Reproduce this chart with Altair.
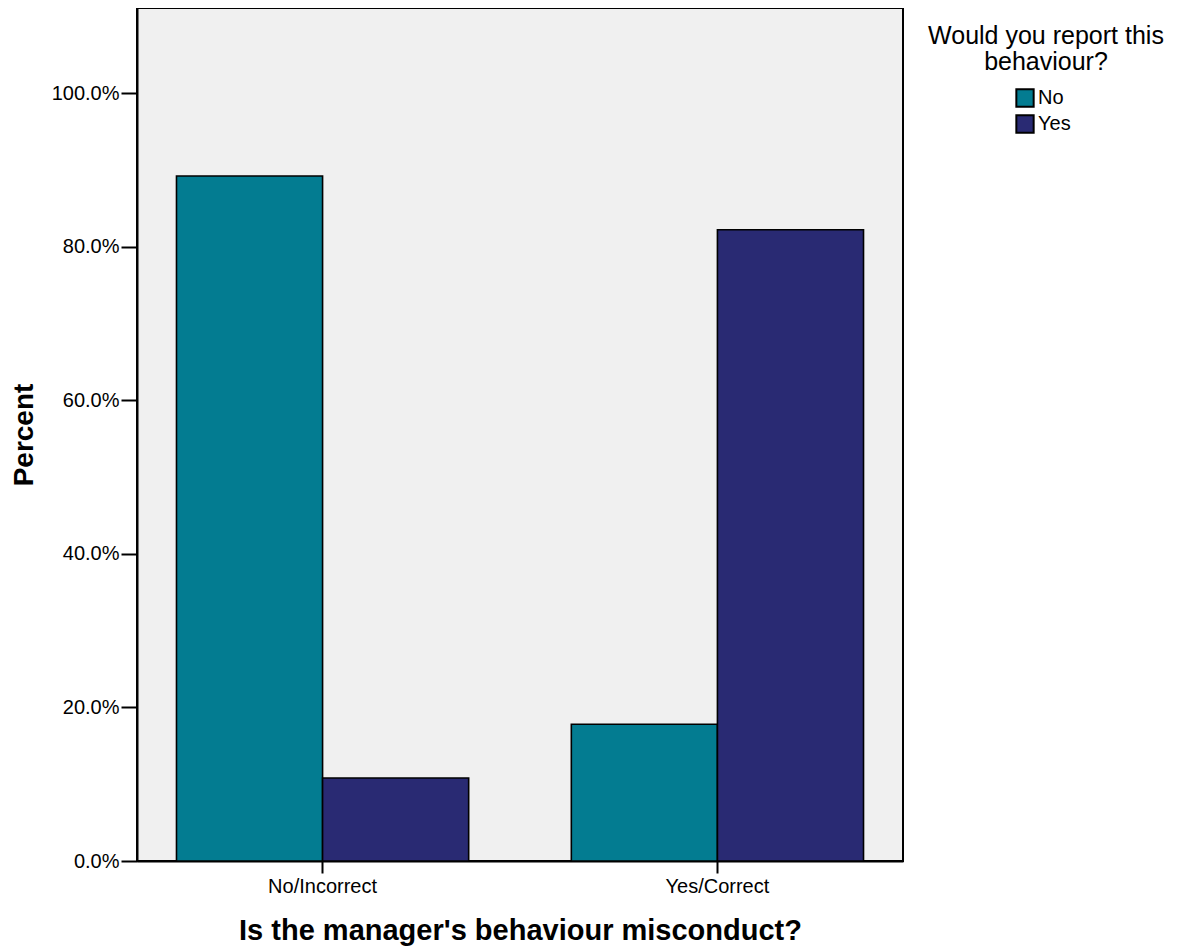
import altair as alt
import pandas as pd

categories = ["No/Incorrect", "No/Incorrect", "Yes/Correct", "Yes/Correct"]
report = ["No", "Yes", "No", "Yes"]
percent = [0.892, 0.108, 0.178, 0.822]
y_ticks = [0.0, 0.2, 0.4, 0.6, 0.8, 1.0]
legend_title = ["Would you report this", "behaviour?"]

df = pd.DataFrame({"misconduct": categories, "report": report, "pct": percent})

FONT = "Liberation Sans"
W, H = 766, 853

bars = alt.Chart(df).mark_bar(stroke="black", strokeWidth=1.6, opacity=1).encode(
    x=alt.X(
        "misconduct:N",
        sort=["No/Incorrect", "Yes/Correct"],
        scale=alt.Scale(paddingInner=0.26, paddingOuter=0.1),
        axis=alt.Axis(
            title="Is the manager's behaviour misconduct?",
            labelAngle=0,
            labelFontSize=20,
            labelFont=FONT,
            labelColor="black",
            labelPadding=3,
            tickSize=12,
            tickColor="black",
            tickWidth=2,
            domainColor="black",
            domainWidth=2,
            titleFont=FONT,
            titleFontSize=29,
            titleFontWeight="bold",
            titleColor="black",
            titleX=W / 2,
            titleY=69,
            titleBaseline="middle",
            titleAlign="center",
        ),
    ),
    xOffset=alt.XOffset("report:N", sort=["No", "Yes"],
                        scale=alt.Scale(paddingInner=0, paddingOuter=0)),
    y=alt.Y(
        "pct:Q",
        scale=alt.Scale(domain=[0, 1.1107], nice=False, zero=True),
        axis=alt.Axis(
            title="Percent",
            values=y_ticks,
            format=".1%",
            grid=False,
            labelFontSize=20,
            labelFont=FONT,
            labelColor="black",
            labelPadding=2,
            tickSize=16,
            tickColor="black",
            tickWidth=2,
            domainColor="black",
            domainWidth=2,
            titleFont=FONT,
            titleFontSize=28,
            titleFontWeight="bold",
            titleColor="black",
            titleAngle=270,
            titleX=-113,
            titleY=H / 2,
            titleBaseline="middle",
            titleAlign="center",
        ),
    ),
    color=alt.Color(
        "report:N",
        sort=["No", "Yes"],
        scale=alt.Scale(domain=["No", "Yes"], range=["#037C91", "#292A73"]),
        legend=alt.Legend(
            title=None,
            orient="none",
            legendX=878,
            legendY=80,
            symbolType="square",
            symbolSize=300,
            symbolStrokeColor="black",
            symbolStrokeWidth=2,
            symbolOpacity=1,
            labelFontSize=20,
            labelFont=FONT,
            labelColor="black",
            labelOffset=3,
            rowPadding=0,
        ),
    ),
)

title_df = pd.DataFrame({"t": ["\n".join(legend_title)]})
title_text = alt.Chart(title_df).mark_text(
    font=FONT, fontSize=25, color="black", align="center", baseline="middle",
    lineBreak="\n", lineHeight=26,
).encode(
    text="t:N",
    x=alt.value(909),
    y=alt.value(28),
)

chart = alt.layer(bars, title_text).properties(
    width=W,
    height=H,
    autosize=alt.AutoSizeParams(type="none"),
    padding={"left": 129, "top": 0, "right": 271, "bottom": 88},
    background="white",
).configure_view(
    fill="#F0F0F0",
    stroke="black",
    strokeWidth=2,
)

chart.save("out.html", embed_options={"renderer": "svg", "actions": False})
